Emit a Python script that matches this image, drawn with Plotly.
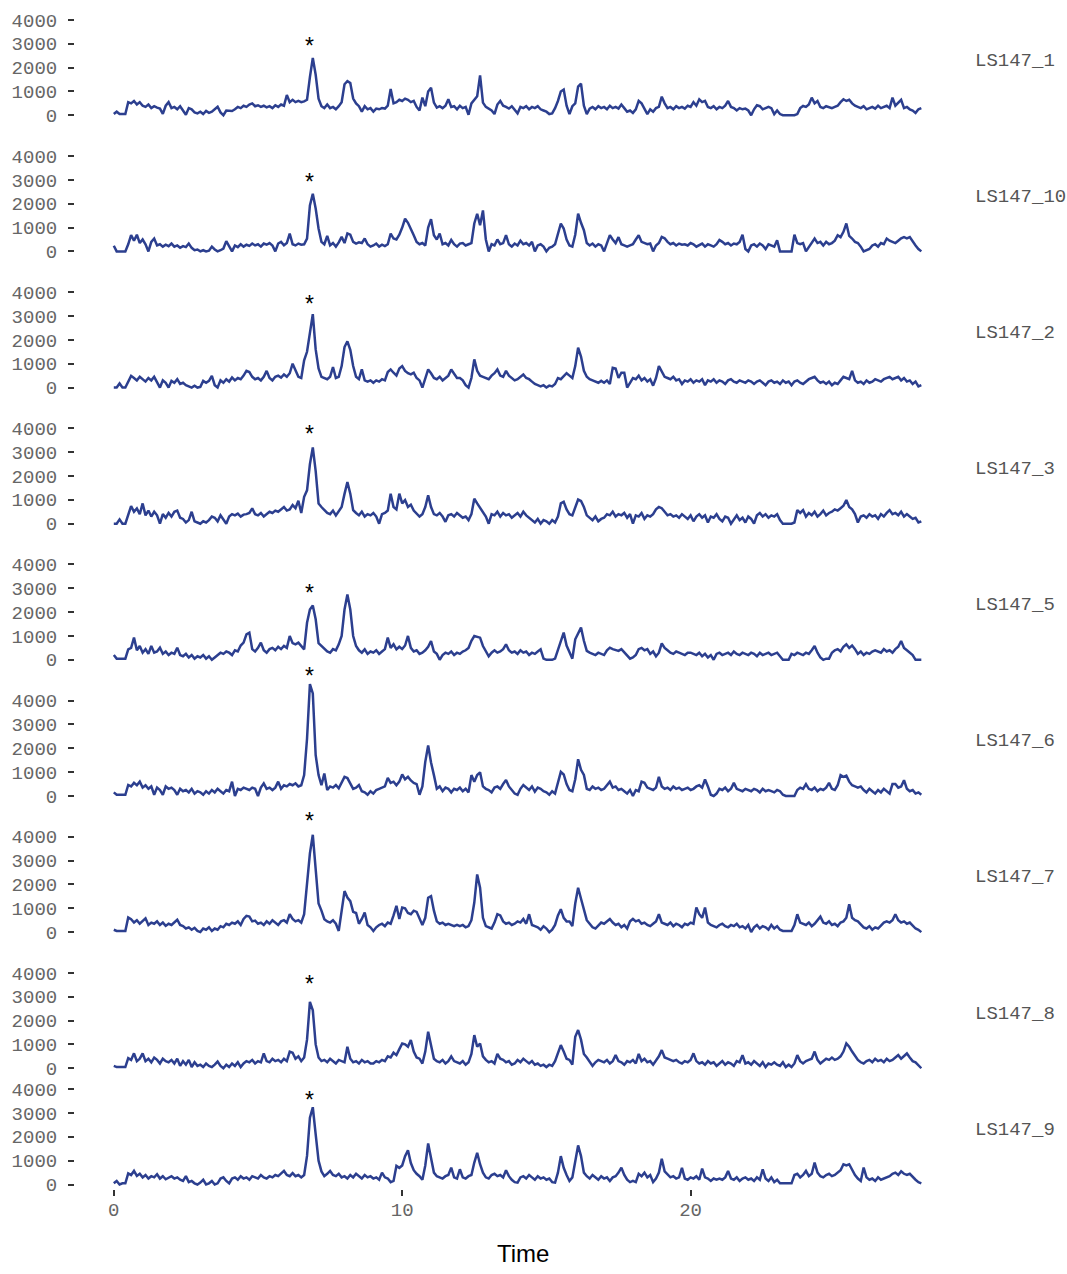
import plotly.graph_objects as go

# Sampling grid (minutes), shared by all traces
time = [round(0.1 * k, 1) for k in range(281)]

samples = ["LS147_1", "LS147_10", "LS147_2", "LS147_3", "LS147_5",
           "LS147_6", "LS147_7", "LS147_8", "LS147_9"]

ls147_1 = [
    50, 150, 50, 50, 50, 550, 500, 600, 450, 550,
    400, 350, 450, 300, 380, 320, 280, 60, 400, 550,
    300, 350, 250, 380, 200, 20, 300, 250, 120, 80,
    150, 50, 180, 100, 150, 250, 360, 120, 0, 200,
    200, 180, 250, 350, 300, 400, 350, 450, 500, 380,
    420, 350, 400, 330, 380, 300, 420, 350, 450, 400,
    850, 550, 650, 550, 600, 550, 580, 650, 1600, 2400,
    1700, 700, 380, 300, 450, 300, 350, 250, 380, 550,
    1300, 1430, 1350, 700, 500, 380, 150, 380, 250, 300,
    150, 280, 250, 300, 280, 400, 1100, 500, 550, 650,
    600, 700, 650, 550, 600, 350, 200, 740, 380, 1000,
    1150, 530, 320, 380, 300, 400, 670, 350, 380, 250,
    400, 300, 350, 20, 500, 650, 800, 1670, 530, 350,
    280, 200, 50, 450, 600, 400, 350, 280, 380, 250,
    80, 350, 300, 380, 250, 350, 300, 380, 250, 200,
    150, 50, 80, 300, 600, 1000, 1080, 400, 50, 380,
    500, 1200, 1330, 400, 50, 280, 350, 250, 380, 300,
    350, 250, 400, 300, 350, 280, 450, 300, 150, 200,
    100, 250, 600, 500, 300, 50, 250, 150, 300, 350,
    780, 500, 300, 350, 250, 380, 300, 350, 280, 400,
    350, 550, 400, 670, 550, 600, 350, 300, 380, 250,
    350, 300, 400, 600, 350, 300, 200, 300, 250, 280,
    200, 0, 250, 420, 380, 250, 300, 350, 300, 50,
    200, 50, 0, 0, 0, 0, 0, 50, 300, 390,
    350, 450, 740, 500, 600, 350, 300, 380, 350, 300,
    350, 400, 550, 670, 600, 650, 500, 400, 350, 300,
    380, 250, 300, 350, 280, 400, 300, 350, 400, 300,
    740, 400, 550, 650, 300, 350, 250, 200, 100, 250, 300,
]

ls147_10 = [
    240, 0, 0, 0, 0, 300, 680, 450, 700, 350,
    500, 300, 0, 400, 540, 250, 300, 200, 280, 220,
    330, 200, 250, 150, 220, 180, 330, 150, 50, 80,
    0, 50, 0, 30, 200, 80, 0, 50, 120, 430,
    200, 0, 250, 180, 300, 200, 280, 230, 330, 250,
    300, 200, 330, 280, 350, 250, 0, 330, 400, 260,
    350, 750, 300, 250, 330, 280, 300, 540, 1930, 2420,
    1800, 960, 400, 300, 650, 250, 350, 200, 380, 610,
    350, 750, 700, 400, 330, 380, 350, 540, 300, 200,
    250, 330, 200, 280, 220, 300, 750, 540, 500, 700,
    1000, 1370, 1200, 960, 680, 400, 300, 350, 250, 1000,
    1350, 680, 500, 750, 300, 350, 250, 480, 300, 200,
    330, 350, 250, 300, 350, 1170, 1580, 1100, 1720, 500,
    0, 300, 250, 500, 300, 350, 680, 300, 200, 330,
    250, 450, 300, 350, 250, 400, 0, 250, 300, 200,
    0, 150, 200, 300, 700, 1170, 960, 500, 250, 200,
    700, 1580, 1200, 890, 350, 250, 330, 200, 300, 250,
    0, 300, 680, 500, 350, 600, 300, 250, 200, 250,
    300, 500, 680, 400, 350, 300, 330, 0, 250, 350,
    610, 550, 400, 300, 350, 250, 330, 280, 300, 250,
    350, 300, 200, 250, 330, 200, 300, 250, 200, 300,
    480, 400, 300, 350, 250, 330, 300, 400, 700, 100,
    0, 250, 300, 200, 330, 250, 100, 300, 250, 200,
    470, 0, 0, 0, 0, 0, 700, 350, 300, 350,
    0, 200, 400, 540, 350, 400, 250, 400, 300, 350,
    450, 680, 600, 820, 1170, 650, 540, 400, 350, 200,
    0, 50, 100, 250, 300, 200, 350, 300, 540, 450,
    400, 350, 450, 550, 600, 550, 600, 400, 250, 100, 0,
]

ls147_2 = [
    0, 0, 170, 0, 0, 250, 490, 400, 300, 450,
    350, 250, 400, 300, 450, 200, 0, 300, 200, 0,
    280, 200, 350, 150, 200, 100, 50, 0, 80, 0,
    30, 280, 200, 280, 490, 100, 0, 300, 200, 350,
    250, 420, 300, 400, 350, 500, 700, 650, 450, 350,
    400, 300, 450, 700, 400, 300, 450, 500, 420, 550,
    450, 600, 1000, 700, 450, 400, 1140, 1500, 2290, 3080,
    1600, 800, 450, 400, 350, 450, 860, 400, 450, 900,
    1700, 1940, 1580, 900, 450, 350, 760, 300, 250, 300,
    200, 300, 250, 350, 300, 650, 760, 620, 500, 800,
    900, 700, 600, 550, 620, 400, 300, 0, 350, 760,
    600, 400, 350, 450, 300, 400, 500, 760, 550, 400,
    400, 300, 100, 0, 400, 1180, 700, 500, 450, 400,
    350, 500, 600, 760, 500, 450, 700, 500, 400, 300,
    350, 450, 550, 400, 350, 250, 150, 100, 50, 100,
    0, 80, 50, 150, 400, 350, 500, 600, 500, 400,
    900, 1670, 1300, 700, 450, 350, 300, 250, 200, 280,
    200, 300, 150, 830, 800, 400, 620, 620, 0, 200,
    400, 350, 500, 300, 400, 250, 350, 80, 400, 900,
    700, 450, 400, 350, 450, 300, 350, 150, 300, 250,
    350, 200, 300, 250, 350, 100, 300, 250, 350, 200,
    300, 250, 150, 300, 350, 250, 200, 300, 250, 200,
    300, 250, 150, 250, 300, 200, 100, 250, 300, 200,
    250, 150, 300, 200, 250, 100, 250, 300, 200, 150,
    250, 350, 400, 450, 300, 200, 250, 150, 250, 100,
    200, 150, 300, 450, 400, 350, 700, 300, 200, 250,
    150, 300, 200, 250, 350, 300, 250, 350, 400, 450,
    350, 400, 450, 300, 400, 250, 300, 150, 250, 50, 100,
]

ls147_3 = [
    0, 0, 180, 0, 0, 420, 740, 500, 640, 400,
    850, 350, 550, 300, 500, 350, 0, 400, 250, 450,
    300, 500, 550, 250, 200, 50, 150, 500, 100, 50,
    0, 100, 50, 150, 300, 250, 100, 350, 200, 0,
    300, 400, 350, 420, 300, 380, 400, 450, 640, 400,
    350, 450, 300, 400, 500, 450, 550, 500, 600, 700,
    550, 600, 780, 650, 960, 450, 1125, 1400, 2500, 3200,
    2200, 850, 700, 570, 450, 400, 550, 350, 500, 700,
    1250, 1750, 1260, 570, 450, 350, 500, 300, 400, 350,
    450, 300, 0, 400, 450, 550, 1260, 700, 600, 1260,
    850, 990, 700, 800, 550, 400, 300, 400, 700, 1190,
    700, 400, 350, 450, 300, 80, 350, 400, 300, 450,
    350, 250, 300, 150, 400, 1050, 850, 650, 500, 300,
    0, 400, 350, 500, 300, 450, 350, 400, 250, 350,
    450, 300, 500, 350, 250, 150, 50, 200, 0, 150,
    100, 0, 150, 50, 300, 850, 920, 600, 400, 350,
    700, 1010, 950, 700, 350, 250, 150, 300, 100, 200,
    250, 400, 350, 500, 300, 400, 350, 450, 250, 400,
    0, 350, 300, 450, 200, 350, 300, 400, 600, 700,
    650, 500, 350, 400, 300, 350, 250, 400, 300, 200,
    350, 100, 300, 400, 250, 350, 50, 300, 250, 400,
    200, 100, 300, 250, 0, 200, 350, 150, 250, 50,
    300, 200, 0, 350, 450, 300, 400, 250, 350, 300,
    400, 150, 0, 0, 0, 0, 50, 570, 450, 570,
    300, 450, 350, 500, 300, 400, 550, 350, 450, 500,
    600, 550, 650, 750, 990, 700, 600, 400, 50, 300,
    350, 250, 400, 300, 350, 200, 400, 300, 450, 570,
    400, 450, 350, 500, 300, 400, 300, 200, 250, 50, 100,
]

ls147_5 = [
    200, 50, 50, 50, 50, 440, 500, 930, 400, 580,
    300, 450, 250, 580, 300, 350, 510, 250, 350, 200,
    300, 250, 510, 200, 150, 250, 100, 200, 50, 150,
    100, 200, 50, 150, 0, 100, 200, 300, 250, 350,
    300, 200, 400, 350, 600, 720, 1070, 1140, 450, 350,
    500, 720, 400, 300, 450, 500, 400, 550, 450, 580,
    500, 1000, 700, 650, 720, 600, 440, 1555, 2110, 2280,
    1700, 700, 580, 450, 350, 300, 450, 400, 650, 1000,
    2110, 2740, 2110, 1000, 580, 400, 300, 440, 250, 350,
    300, 400, 250, 350, 450, 930, 500, 650, 440, 550,
    450, 600, 1000, 500, 350, 400, 250, 300, 400, 550,
    790, 350, 250, 0, 200, 300, 250, 350, 200, 300,
    250, 350, 400, 500, 800, 1000, 950, 930, 580, 350,
    150, 300, 400, 300, 350, 450, 650, 400, 300, 350,
    250, 400, 300, 350, 200, 300, 250, 350, 440, 50,
    0, 0, 0, 50, 400, 790, 1140, 600, 350, 50,
    860, 1100, 1350, 800, 375, 300, 250, 200, 300, 250,
    200, 400, 510, 450, 400, 375, 450, 300, 150, 50,
    100, 200, 450, 500, 400, 450, 250, 350, 150, 300,
    690, 500, 400, 300, 250, 350, 300, 250, 200, 300,
    300, 250, 200, 300, 150, 250, 100, 200, 0, 250,
    300, 200, 250, 300, 200, 350, 250, 200, 300, 250,
    200, 300, 250, 150, 300, 200, 250, 300, 200, 250,
    300, 150, 0, 0, 0, 250, 200, 300, 250, 200,
    300, 250, 400, 580, 300, 100, 0, 50, 50, 300,
    400, 450, 350, 550, 650, 500, 600, 450, 250, 350,
    200, 300, 250, 350, 400, 350, 300, 450, 350, 400,
    300, 450, 550, 790, 500, 400, 300, 200, 0, 0, 0,
]

ls147_6 = [
    150, 50, 50, 50, 50, 460, 400, 550, 450, 600,
    350, 450, 300, 400, 50, 350, 250, 50, 400, 300,
    350, 250, 50, 300, 200, 250, 150, 300, 100, 200,
    150, 50, 200, 100, 250, 150, 300, 200, 100, 250,
    200, 600, 0, 300, 250, 350, 300, 250, 350, 300,
    0, 350, 530, 300, 350, 250, 350, 600, 300, 450,
    400, 500, 450, 530, 400, 450, 875, 2400, 4690, 4300,
    1710, 875, 450, 940, 250, 400, 350, 460, 320, 600,
    800, 750, 500, 300, 350, 460, 200, 150, 50, 200,
    100, 250, 300, 350, 400, 760, 550, 600, 450, 600,
    900, 700, 800, 650, 550, 500, 50, 400, 1430, 2120,
    1400, 875, 300, 400, 200, 350, 300, 150, 300, 250,
    350, 200, 300, 150, 875, 600, 875, 990, 400, 300,
    250, 150, 350, 400, 300, 500, 670, 400, 250, 100,
    50, 300, 460, 350, 250, 400, 180, 350, 300, 200,
    150, 50, 200, 100, 600, 1010, 900, 500, 250, 200,
    700, 1540, 1100, 880, 300, 250, 400, 300, 350, 250,
    300, 450, 600, 350, 400, 250, 300, 200, 100, 250,
    0, 250, 200, 600, 550, 350, 300, 250, 350, 800,
    400, 300, 350, 250, 400, 300, 350, 250, 300, 350,
    250, 300, 400, 450, 350, 690, 400, 50, 0, 100,
    300, 250, 350, 200, 300, 550, 300, 250, 200, 300,
    250, 200, 300, 250, 150, 300, 200, 250, 200, 150,
    250, 200, 50, 0, 0, 0, 0, 250, 350, 300,
    500, 300, 250, 350, 200, 300, 250, 350, 550, 300,
    250, 450, 875, 800, 850, 600, 450, 400, 350, 400,
    250, 150, 300, 200, 100, 250, 150, 300, 200, 100,
    500, 500, 350, 400, 660, 300, 200, 250, 100, 150, 50,
]

ls147_7 = [
    100, 50, 50, 50, 50, 610, 540, 400, 500, 350,
    450, 580, 300, 400, 350, 450, 300, 400, 260, 350,
    300, 400, 520, 300, 250, 150, 200, 100, 180, 50,
    0, 150, 100, 200, 50, 150, 100, 250, 200, 350,
    300, 400, 350, 450, 300, 550, 680, 650, 450, 480,
    350, 400, 300, 450, 350, 500, 400, 300, 450, 500,
    400, 750, 550, 450, 500, 400, 750, 2100, 3300, 4080,
    2800, 1200, 900, 540, 450, 400, 500, 350, 50, 900,
    1720, 1450, 1300, 850, 800, 350, 550, 820, 300, 200,
    50, 200, 300, 350, 250, 400, 350, 700, 1100, 550,
    1030, 1000, 800, 750, 900, 850, 550, 300, 600, 1440,
    1510, 900, 450, 350, 400, 300, 350, 300, 250, 300,
    250, 300, 200, 250, 500, 1240, 2420, 1860, 600, 250,
    200, 150, 400, 750, 700, 450, 350, 400, 300, 350,
    450, 400, 550, 350, 750, 300, 250, 200, 100, 250,
    150, 0, 100, 300, 700, 960, 600, 450, 450, 250,
    1200, 1860, 1400, 900, 500, 350, 200, 150, 300, 400,
    350, 450, 550, 400, 300, 350, 200, 300, 150, 450,
    550, 450, 500, 350, 400, 300, 250, 350, 450, 750,
    400, 350, 300, 400, 250, 350, 300, 200, 350, 300,
    400, 350, 1030, 750, 600, 1030, 400, 300, 250, 200,
    300, 350, 250, 200, 300, 250, 350, 200, 250, 150,
    300, 0, 200, 300, 150, 250, 200, 100, 300, 150,
    250, 100, 50, 50, 50, 50, 300, 750, 400, 350,
    300, 400, 250, 350, 500, 650, 400, 350, 450, 300,
    350, 250, 400, 450, 600, 1170, 600, 500, 450, 300,
    200, 150, 250, 100, 200, 150, 300, 400, 450, 400,
    500, 750, 500, 400, 450, 350, 400, 250, 150, 100, 0,
]

ls147_8 = [
    100, 50, 50, 50, 50, 420, 350, 625, 300, 400,
    620, 300, 400, 250, 450, 350, 200, 400, 300, 250,
    350, 200, 400, 100, 300, 150, 350, 50, 250, 100,
    150, 50, 200, 100, 50, 150, 280, 100, 0, 150,
    50, 200, 100, 250, 50, 200, 300, 250, 350, 200,
    300, 250, 625, 300, 250, 400, 300, 350, 250, 400,
    300, 700, 650, 400, 500, 300, 450, 1200, 2780, 2430,
    1000, 450, 300, 350, 250, 400, 300, 200, 350, 300,
    250, 900, 400, 250, 300, 200, 350, 250, 300, 200,
    200, 300, 250, 350, 300, 500, 450, 650, 550, 800,
    1040, 1000, 900, 1180, 700, 450, 400, 200, 700, 1530,
    1000, 400, 300, 250, 350, 200, 300, 500, 300, 250,
    200, 300, 150, 250, 600, 1390, 900, 1040, 500, 350,
    250, 300, 200, 600, 400, 350, 250, 300, 150, 200,
    350, 250, 400, 300, 200, 300, 150, 200, 100, 150,
    50, 150, 100, 300, 600, 970, 700, 400, 350, 150,
    1320, 1600, 1200, 600, 450, 300, 100, 250, 350, 300,
    250, 350, 200, 300, 550, 300, 250, 150, 300, 250,
    350, 200, 600, 300, 400, 250, 300, 150, 300, 500,
    760, 450, 400, 350, 300, 350, 250, 200, 300, 250,
    350, 625, 300, 200, 250, 150, 300, 200, 250, 100,
    200, 300, 150, 250, 200, 100, 300, 250, 550, 200,
    250, 150, 300, 200, 100, 250, 50, 200, 150, 250,
    150, 100, 250, 50, 150, 50, 200, 550, 300, 200,
    300, 350, 400, 700, 350, 200, 300, 400, 350, 450,
    350, 400, 500, 700, 1040, 900, 700, 500, 350, 250,
    200, 300, 350, 250, 400, 300, 350, 250, 400, 300,
    350, 450, 550, 400, 500, 620, 450, 300, 250, 100, 0,
]

ls147_9 = [
    50, 150, 0, 50, 50, 470, 400, 570, 360, 450,
    300, 400, 250, 350, 300, 430, 250, 350, 220, 300,
    350, 250, 300, 200, 150, 350, 100, 150, 50, 0,
    80, 200, 0, 50, 150, 0, 50, 250, 300, 150,
    50, 250, 300, 200, 350, 250, 300, 200, 350, 300,
    250, 400, 300, 250, 350, 300, 400, 350, 450, 570,
    400, 350, 480, 350, 400, 300, 400, 1200, 2800, 3240,
    2100, 1000, 550, 350, 450, 570, 400, 350, 450, 300,
    350, 250, 400, 300, 450, 350, 250, 400, 300, 350,
    250, 300, 200, 500, 300, 250, 100, 150, 780, 700,
    800, 1190, 1440, 900, 600, 450, 350, 200, 800, 1720,
    1100, 500, 350, 300, 250, 350, 400, 710, 300, 250,
    640, 300, 250, 350, 400, 920, 1330, 850, 500, 300,
    250, 400, 450, 350, 400, 300, 600, 350, 200, 100,
    80, 300, 350, 250, 400, 300, 200, 350, 250, 300,
    200, 250, 100, 80, 500, 1190, 700, 400, 150, 300,
    1060, 1640, 1190, 500, 350, 250, 400, 300, 200, 350,
    250, 300, 150, 300, 350, 500, 710, 400, 200, 100,
    150, 100, 450, 350, 500, 300, 400, 100, 250, 500,
    1080, 550, 400, 300, 350, 250, 300, 700, 250, 200,
    300, 250, 350, 200, 670, 300, 250, 150, 250, 200,
    250, 200, 300, 570, 250, 200, 300, 150, 250, 300,
    200, 250, 150, 300, 200, 640, 250, 150, 300, 100,
    200, 50, 50, 50, 50, 50, 400, 450, 300, 400,
    570, 350, 450, 920, 500, 350, 300, 400, 450, 350,
    400, 500, 600, 850, 800, 850, 600, 400, 250, 150,
    710, 300, 200, 250, 150, 300, 200, 250, 300, 350,
    450, 500, 400, 550, 450, 400, 450, 300, 200, 100, 50,
]

series = [ls147_1, ls147_10, ls147_2, ls147_3, ls147_5,
          ls147_6, ls147_7, ls147_8, ls147_9]

# height at which the "*" marker sits above each trace's main peak
star_time = 6.8
star_y = [3100, 3100, 3700, 3950, 3000, 5250, 4850, 3750, 3750]

y_ticks = [0, 1000, 2000, 3000, 4000]
x_ticks = [0, 10, 20]

# ---- page geometry (pixels, measured from the top-left corner) ----
W, H = 1067, 1274
PX_PER_UNIT = 0.024            # pixels per signal unit (24 px per 1000)
zero_px = [116, 253, 390, 527, 664, 801, 938, 1075, 1192]
x_left_px, x_right_px = 75, 960
x0_px, px_per_min = 113.8, 28.84

LINE = "#2c3f8f"
TICK_FONT = dict(family="Liberation Mono, Courier New, monospace", size=19, color="#666666")

fig = go.Figure()
layout = dict(
    width=W, height=H,
    margin=dict(l=0, r=0, t=0, b=0),
    paper_bgcolor="white", plot_bgcolor="rgba(0,0,0,0)",
    showlegend=False,
)

x_range = [(x_left_px - x0_px) / px_per_min, (x_right_px - x0_px) / px_per_min]
layout["xaxis"] = dict(
    domain=[x_left_px / W, x_right_px / W],
    range=x_range,
    anchor="y9",
    tickvals=x_ticks,
    ticks="outside", ticklen=6, tickwidth=2, tickcolor="#333333",
    tickfont=TICK_FONT, ticklabelstandoff=-3,
    showgrid=False, zeroline=False, showline=False,
)

annotations = []
for i, (name, vals) in enumerate(zip(samples, series)):
    assert len(vals) == len(time), name
    k = i + 1
    z = zero_px[i]
    top_px = max(0, z - 140)
    bot_px = z + 5
    y_range = [(z - bot_px) / PX_PER_UNIT, (z - top_px) / PX_PER_UNIT]
    layout[f"yaxis{k}"] = dict(
        domain=[1 - bot_px / H, 1 - top_px / H],
        range=y_range,
        anchor="x",
        tickvals=y_ticks,
        ticks="outside", ticklen=6, tickwidth=2, tickcolor="#333333",
        tickfont=TICK_FONT, ticklabelstandoff=7,
        showgrid=False, zeroline=False, showline=False,
    )
    fig.add_trace(go.Scatter(
        x=time, y=vals, mode="lines",
        line=dict(color=LINE, width=2.5),
        xaxis="x", yaxis=f"y{k}", hoverinfo="skip",
    ))
    # significance marker above the main peak
    annotations.append(dict(
        x=star_time, y=star_y[i], xref="x", yref=f"y{k}",
        text="*", showarrow=False, yshift=-5,
        font=dict(family="Liberation Sans, Arial, sans-serif", size=23, color="black"),
    ))
    # sample label at the right of each panel
    annotations.append(dict(
        x=973 / W, y=1 - (z - 55) / H, xref="paper", yref="paper",
        text=name, showarrow=False, xanchor="left", yanchor="middle",
        font=dict(family="Liberation Mono, Courier New, monospace", size=19, color="#555555"),
    ))

annotations.append(dict(
    x=523 / W, y=1 - 1261 / H, xref="paper", yref="paper",
    text="Time", showarrow=False, xanchor="center", yanchor="middle",
    font=dict(family="Liberation Sans, Arial, sans-serif", size=24, color="black"),
))
layout["annotations"] = annotations

fig.update_layout(**layout)
fig.write_html("out.html")
